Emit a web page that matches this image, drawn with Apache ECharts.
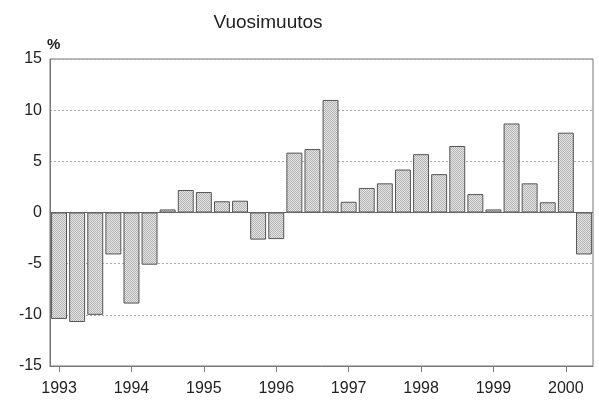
<!DOCTYPE html>
<html>
<head>
<meta charset="utf-8">
<script src="https://cdn.jsdelivr.net/npm/echarts@6/dist/echarts.min.js"></script>
<style>
  html, body { margin: 0; padding: 0; background: #fff; }
  #chart { width: 599px; height: 406px; }
</style>
</head>
<body>
<div id="chart"></div>
<script>
'use strict';

// quarterly data, 1993Q1 .. 2000Q2
var years = ['1993', '1994', '1995', '1996', '1997', '1998', '1999', '2000'];
var quarters = [];
years.forEach(function (y) {
    ['Q1', 'Q2', 'Q3', 'Q4'].forEach(function (q) { quarters.push(y + q); });
});
quarters = quarters.slice(0, 30);

var values = [
    -10.4, -10.7, -10.0, -4.1,
    -8.9, -5.1, 0.3, 2.2,
    2.0, 1.1, 1.15, -2.65,
    -2.6, 5.85, 6.2, 11.0,
    1.05, 2.4, 2.85, 4.2,
    5.7, 3.75, 6.5, 1.8,
    0.3, 8.7, 2.85, 1.0,
    7.8, -4.1
];

var yTicks = [-15, -10, -5, 0, 5, 10, 15];

// fine dotted fill like the printed chart
function stipple() {
    var c = document.createElement('canvas');
    c.width = 2; c.height = 2;
    var ctx = c.getContext('2d');
    ctx.fillStyle = '#e4e4e4';
    ctx.fillRect(0, 0, 2, 2);
    ctx.fillStyle = '#b4b4b4';
    ctx.fillRect(0, 0, 1, 1);
    ctx.fillRect(1, 1, 1, 1);
    return c;
}

var font = 'Liberation Sans';
var myChart = echarts.init(document.getElementById('chart'));

myChart.setOption({
    animation: false,
    backgroundColor: '#fff',
    title: {
        text: 'Vuosimuutos',
        left: 263,
        textAlign: 'center',
        top: 8,
        textStyle: { fontFamily: 'Liberation Sans Narrow, ' + font, fontSize: 19, fontWeight: 'normal', color: '#222' }
    },
    graphic: [{
        type: 'text',
        left: 47,
        top: 37,
        style: { text: '%', font: 'bold 15px ' + font, fill: '#222' }
    }],
    grid: {
        left: 50, right: 6, top: 59, bottom: 40,
        show: true,
        borderColor: '#777',
        borderWidth: 1
    },
    xAxis: {
        type: 'category',
        data: quarters,
        axisLine: { onZero: false, lineStyle: { color: '#777' } },
        axisTick: { show: true, interval: 3, alignWithLabel: true, length: 6, lineStyle: { color: '#777' } },
        axisLabel: {
            interval: 3,
            margin: 15,
            fontFamily: font,
            fontSize: 16,
            color: '#222',
            formatter: function (v) { return v.slice(0, 4); }
        }
    },
    yAxis: {
        type: 'value',
        min: yTicks[0],
        max: yTicks[yTicks.length - 1],
        interval: 5,
        axisLine: { show: true, lineStyle: { color: '#777' } },
        axisTick: { show: false },
        axisLabel: { fontFamily: font, fontSize: 16, color: '#222', margin: 8 },
        splitLine: { show: true, lineStyle: { color: '#aaa', type: [2, 2], width: 1 } }
    },
    series: [{
        type: 'bar',
        data: values,
        barCategoryGap: '12%',
        itemStyle: {
            color: { image: stipple(), repeat: 'repeat' },
            borderColor: '#555',
            borderWidth: 1
        },
        markLine: {
            silent: true,
            symbol: 'none',
            label: { show: false },
            lineStyle: { color: '#666', type: 'solid', width: 1 },
            data: [{ yAxis: 0 }]
        }
    }]
});
</script>
</body>
</html>
